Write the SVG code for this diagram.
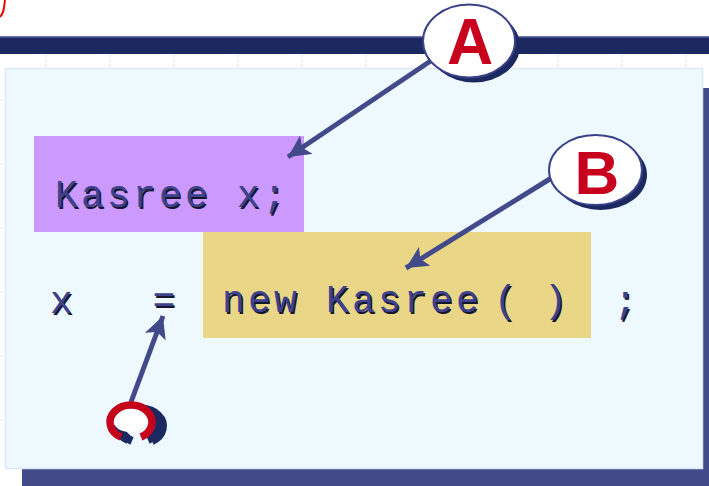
<svg xmlns="http://www.w3.org/2000/svg" width="709" height="486" viewBox="0 0 709 486">
<style>
.code{font-family:"Liberation Mono","DejaVu Sans Mono",monospace;font-size:38px;letter-spacing:3.2px;fill:#3e428c}
.sh{fill:#15162e}
.lbl{font-family:"Liberation Sans",Arial,sans-serif;font-weight:bold;fill:#c8001e;text-anchor:middle}
.conn{stroke:#434a8a;stroke-width:5;fill:none}
.tick{stroke:#d6e2f6;stroke-width:1;stroke-dasharray:3 2}
</style>
<defs>
<marker id="ah" markerUnits="userSpaceOnUse" markerWidth="24" markerHeight="22" refX="22" refY="11" orient="auto">
<path d="M0,0 L22,11 L0,22 L5,11 Z" fill="#434a8a"/>
</marker>
</defs>
<rect width="709" height="486" fill="#ffffff"/>
<path d="M5,0 C4,8 4,13 0,17" stroke="#e01010" stroke-width="2" fill="none"/>
<g id="background">
<rect x="0" y="36" width="709" height="18" fill="#1c2960"/>
<rect x="0" y="36" width="709" height="1.5" fill="#6a72b4"/>
<g class="tick">
<line x1="46" y1="54" x2="46" y2="68"/><line x1="110" y1="54" x2="110" y2="68"/><line x1="174" y1="54" x2="174" y2="68"/><line x1="238" y1="54" x2="238" y2="68"/><line x1="302" y1="54" x2="302" y2="68"/><line x1="366" y1="54" x2="366" y2="68"/><line x1="430" y1="54" x2="430" y2="68"/><line x1="494" y1="54" x2="494" y2="68"/><line x1="558" y1="54" x2="558" y2="68"/><line x1="622" y1="54" x2="622" y2="68"/><line x1="686" y1="54" x2="686" y2="68"/>
<line x1="0" y1="100" x2="5" y2="100"/><line x1="0" y1="164" x2="5" y2="164"/><line x1="0" y1="228" x2="5" y2="228"/><line x1="0" y1="292" x2="5" y2="292"/><line x1="0" y1="356" x2="5" y2="356"/><line x1="0" y1="420" x2="5" y2="420"/>
</g>
<rect x="703" y="88" width="6" height="398" fill="#434a8a"/>
<rect x="22" y="469" width="687" height="17" fill="#434a8a"/>
<rect x="5.5" y="68.5" width="697" height="400" fill="#eef9ff" stroke="#dde7f8" stroke-width="1.5"/>
</g>
<g id="node-decl">
<rect x="34" y="136" width="270" height="96" fill="#cc99ff"/>
<text class="code sh" x="56.5" y="208.5">Kasree x;</text>
<text class="code" x="55" y="207">Kasree x;</text>
</g>
<g id="node-new">
<rect x="203" y="232" width="388" height="106" fill="#ead687"/>
<g class="sh" transform="translate(1.5,1.5)">
<text class="code sh" x="222" y="312">new Kasree</text>
<text class="code sh" x="507" y="312" text-anchor="middle" letter-spacing="0">(</text>
<text class="code sh" x="557" y="312" text-anchor="middle" letter-spacing="0">)</text>
</g>
<text class="code" x="222" y="312">new Kasree</text>
<text class="code" x="507" y="312" text-anchor="middle" letter-spacing="0">(</text>
<text class="code" x="557" y="312" text-anchor="middle" letter-spacing="0">)</text>
</g>
<g id="node-line">
<g transform="translate(1.5,1.5)">
<text class="code sh" x="63" y="313" text-anchor="middle" letter-spacing="0">x</text>
<text class="code sh" x="165.5" y="313" text-anchor="middle" letter-spacing="0">=</text>
<text class="code sh" x="627" y="313" text-anchor="middle" letter-spacing="0">;</text>
</g>
<text class="code" x="63" y="313" text-anchor="middle" letter-spacing="0">x</text>
<text class="code" x="165.5" y="313" text-anchor="middle" letter-spacing="0">=</text>
<text class="code" x="627" y="313" text-anchor="middle" letter-spacing="0">;</text>
</g>
<g id="connectors">
<line class="conn" x1="432" y1="60" x2="288" y2="157" marker-end="url(#ah)"/>
<line class="conn" x1="553" y1="177" x2="406" y2="268" marker-end="url(#ah)"/>
<line class="conn" x1="131" y1="402" x2="163" y2="316" marker-end="url(#ah)"/>
</g>
<g id="node-A">
<ellipse cx="474" cy="46" rx="46" ry="36.5" fill="#1c2960"/>
<ellipse cx="469" cy="41" rx="46" ry="36.5" fill="#ffffff" stroke="#3a4288" stroke-width="2"/>
<text class="lbl" x="470" y="64" font-size="64">A</text>
</g>
<g id="node-B">
<ellipse cx="600.5" cy="175" rx="46.5" ry="35" fill="#1c2960"/>
<ellipse cx="595.5" cy="170" rx="46.5" ry="35" fill="#ffffff" stroke="#3a4288" stroke-width="2"/>
<text class="lbl" x="597" y="194" font-size="62">B</text>
</g>
<g id="node-C">
<path d="M124,437 A21,17 0 1 1 144,437" transform="translate(8,4)" stroke="#1c2960" stroke-width="8" fill="none"/>
<path d="M124,437 A21,17 0 1 1 144,437" transform="translate(4,3)" stroke="#1c2960" stroke-width="8" fill="none"/>
<ellipse cx="129.5" cy="419" rx="17" ry="13" fill="#ffffff"/>
<path d="M121,437 A21,17 0 1 1 141,437" stroke="#c4001a" stroke-width="7.5" fill="none"/>
</g>
</svg>
